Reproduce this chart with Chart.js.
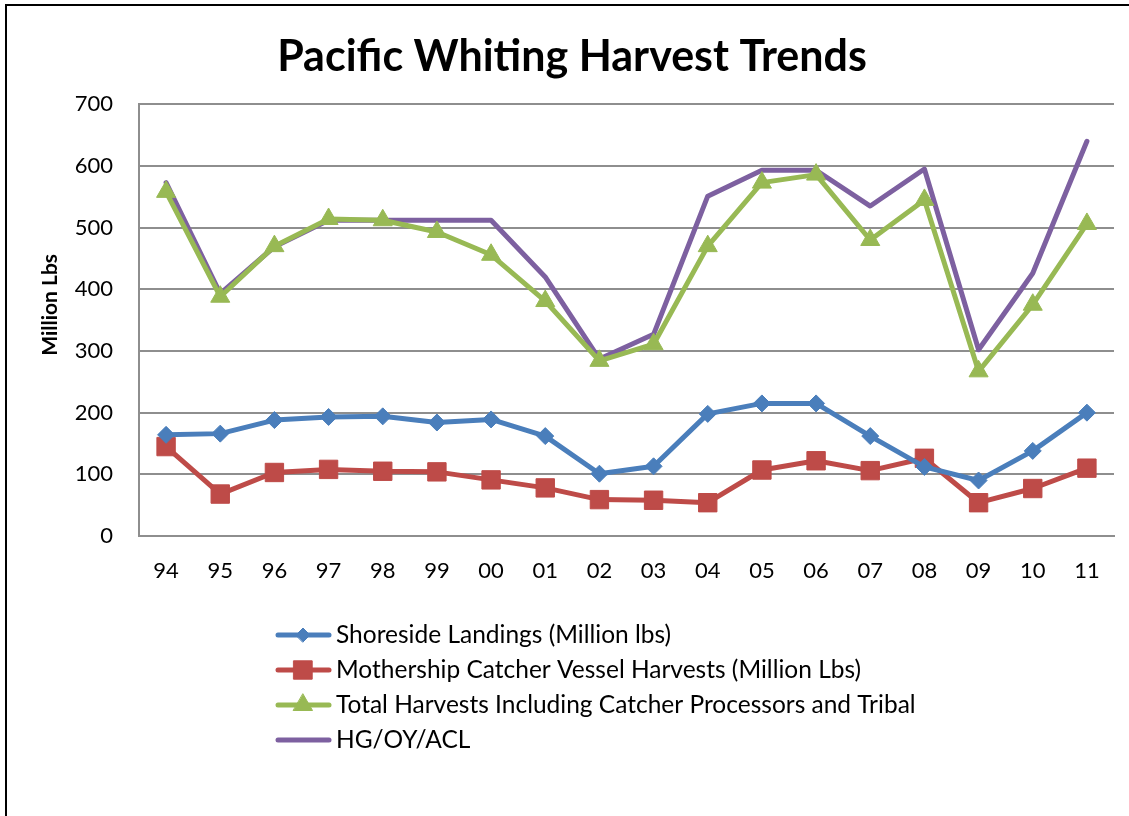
<!DOCTYPE html>
<html>
<head>
<meta charset="utf-8">
<title>Pacific Whiting Harvest Trends</title>
<script src="https://cdn.jsdelivr.net/npm/chart.js@4.4.1/dist/chart.umd.min.js"></script>
<style>
  html, body { margin: 0; padding: 0; background: #fff; overflow: hidden; }
  #wrap { position: relative; width: 1129px; height: 816px; overflow: hidden; }
  #frame { position: absolute; left: 5px; top: 4px; width: 1400px; height: 1000px;
           border-top: 2px solid #000; border-left: 2px solid #000; }
  canvas { position: absolute; left: 0; top: 0; }
</style>
</head>
<body>
<div id="wrap">
  <div id="frame"></div>
  <canvas id="myChart" width="1129" height="816"></canvas>
</div>
<script>
// season years (two digit)
const years = ['94', '95', '96', '97', '98', '99', '00', '01', '02', '03', '04', '05', '06', '07', '08', '09', '10', '11']

// million lbs
const shoreside  = [164, 166, 188, 193, 194, 184, 189, 162, 101, 113, 198, 215, 215, 162, 112, 90, 138, 200]
const mothership = [145, 68, 103, 108, 105, 104, 91, 78, 59, 58, 54, 107, 122, 106, 126, 54, 77, 110]
const totalHarv  = [558, 388, 470, 514, 512, 493, 456, 381, 284, 311, 470, 573, 586, 480, 545, 267, 375, 506]
const hgLimit    = [573, 393, 469, 512, 512, 512, 512, 420, 287, 327, 551, 593, 593, 535, 595, 302, 426, 640]

const yTicks = [0, 100, 200, 300, 400, 500, 600, 700]

const FONT = 'Lato'

// legend drawn as a single column under the axis
const columnLegend = {
    id: 'columnLegend',
    afterDraw(chart) {
        const ctx = chart.ctx
        ctx.save()
        ctx.font = '24.5px ' + FONT
        ctx.textBaseline = 'middle'
        chart.data.datasets.forEach((ds, i) => {
            let y = 635 + i * 35
            ctx.strokeStyle = ds.borderColor
            ctx.lineWidth = ds.borderWidth
            ctx.lineCap = 'round'
            ctx.beginPath()
            ctx.moveTo(278, y)
            ctx.lineTo(329, y)
            ctx.stroke()
            if (ds.pointRadius > 0) {
                ctx.fillStyle = ds.pointBackgroundColor
                ctx.strokeStyle = ds.pointBorderColor
                ctx.lineWidth = 1
                Chart.helpers.drawPoint(ctx, {
                    pointStyle: ds.pointStyle,
                    radius: ds.pointStyle === 'rectRot' ? 7 : ds.pointRadius,
                    borderWidth: 1
                }, 303, y)
            }
            ctx.fillStyle = '#000'
            ctx.fillText(ds.label, 336, y)
        })
        ctx.restore()
    }
}

function series(label, data, color, style, radius) {
    return {
        label: label,
        data: data,
        borderColor: color,
        backgroundColor: color,
        borderWidth: 5,
        borderJoinStyle: 'round',
        borderCapStyle: 'round',
        pointStyle: style,
        pointRadius: radius,
        pointHoverRadius: radius,
        pointBackgroundColor: color,
        pointBorderColor: color,
        pointBorderWidth: 1,
        tension: 0
    }
}

Chart.defaults.color = '#000'
Chart.defaults.font.family = FONT

let ctx = document.getElementById('myChart')

let dados = {
    labels: years,
    datasets: [
        series('Shoreside Landings (Million lbs)', shoreside, '#4A7EBB', 'rectRot', 8.5),
        series('Mothership Catcher Vessel Harvests (Million Lbs)', mothership, '#BE4B48', 'rect', 13),
        series('Total Harvests Including Catcher Processors and Tribal', totalHarv, '#98B954', 'triangle', 11),
        series('HG/OY/ACL', hgLimit, '#7D60A0', false, 0)
    ]
}

let opcoes = {
    responsive: false,
    animation: false,
    layout: {
        padding: { top: 0, left: 30, right: 15, bottom: 220 }
    },
    plugins: {
        legend: { display: false },
        tooltip: { enabled: false },
        title: {
            display: true,
            text: 'Pacific Whiting Harvest Trends',
            color: '#000',
            font: { size: 43, weight: 'bold', family: FONT },
            padding: { top: 31.5, bottom: 21.2 }
        }
    },
    scales: {
        x: {
            offset: true,
            grid: { display: false, drawTicks: false },
            border: { display: true, color: '#8e8e8e', width: 2 },
            ticks: { padding: 22, font: { size: 22 }, color: '#000' },
            afterFit: (scale) => { scale.height = 60 }
        },
        y: {
            min: yTicks[0],
            max: yTicks[yTicks.length - 1],
            afterBuildTicks: (scale) => { scale.ticks = yTicks.map(v => ({ value: v })) },
            grid: { color: '#8e8e8e', lineWidth: 2, drawTicks: false },
            border: { display: true, color: '#8e8e8e', width: 2 },
            ticks: { padding: 26, font: { size: 22 }, color: '#000' },
            title: {
                display: true,
                // leading gap lifts the label a little above the axis middle
                text: '      Million Lbs',
                color: '#000',
                font: { size: 21, weight: 'bold' },
                padding: { top: 8, bottom: 0 }
            },
            afterFit: (scale) => { scale.width = 109 }
        }
    }
}

new Chart(ctx, {
    type: 'line',
    data: dados,
    options: opcoes,
    plugins: [columnLegend]
})
</script>
</body>
</html>
